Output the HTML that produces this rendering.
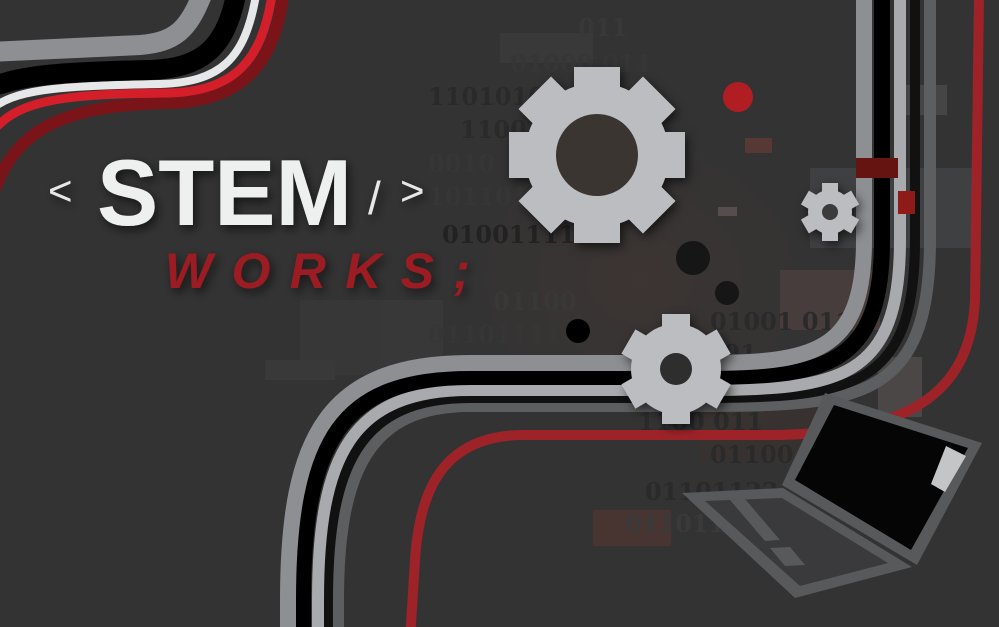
<!DOCTYPE html>
<html><head><meta charset="utf-8"><style>
html,body{margin:0;padding:0;background:#333;}
svg{display:block}
</style></head><body>
<svg width="999" height="627" viewBox="0 0 999 627" xmlns="http://www.w3.org/2000/svg">
<defs>
<radialGradient id="glow" cx="0.5" cy="0.5" r="0.5">
<stop offset="0" stop-color="#3e3533" stop-opacity="0.9"/>
<stop offset="1" stop-color="#333" stop-opacity="0"/>
</radialGradient>
<filter id="sh" x="-20%" y="-20%" width="140%" height="140%"><feDropShadow dx="3" dy="4" stdDeviation="5" flood-color="#000" flood-opacity="0.6"/></filter>
</defs>
<rect width="999" height="627" fill="#333"/>
<ellipse cx="640" cy="280" rx="260" ry="220" fill="url(#glow)"/>

<g opacity="0.9">
<rect x="500" y="33" width="93" height="30" fill="#3b3a3a"/>
<rect x="300" y="300" width="143" height="75" fill="#383838"/>
<rect x="265" y="360" width="70" height="20" fill="#3a3a3a"/>
<rect x="780" y="270" width="100" height="60" fill="#4a3f3d"/>
<rect x="810" y="168" width="163" height="80" fill="#47494b" opacity="0.7"/>
<rect x="895" y="85" width="52" height="30" fill="#555" opacity="0.6"/>
<rect x="878" y="357" width="44" height="60" fill="#5a5251" opacity="0.7"/>
<rect x="700" y="370" width="140" height="90" fill="#3a3230" opacity="0.8"/>
<rect x="593" y="510" width="78" height="36" fill="#4a3532"/>
<rect x="745" y="138" width="27" height="15" fill="#5a3a35"/>
<rect x="718" y="207" width="19" height="9" fill="#5a5050"/>
</g>

<g font-family="'DejaVu Serif','Liberation Serif',serif" font-weight="bold" font-size="24" fill="#2a2a2a">
<text x="578" y="36" fill="#383838">011</text>
<text x="510" y="72" fill="#363636">01000 011</text>
<text x="428" y="105">1101010</text>
<text x="460" y="138">1100 1011</text>
<text x="428" y="172" fill="#363636">0010</text>
<text x="428" y="205" fill="#363636">1011010</text>
<text x="442" y="243" fill="#222">01001111</text>
<text x="493" y="310" fill="#383838">01100</text>
<text x="428" y="343" fill="#363636">01101111</text>
<text x="710" y="330">01001 011</text>
<text x="640" y="362">0110001</text>
<text x="720" y="395">0110</text>
<text x="638" y="430">1100 011</text>
<text x="710" y="463">01100</text>
<text x="645" y="500">01101122</text>
<text x="625" y="532" fill="#3a3a3a">011011</text>
</g>

<g fill="none">
<path d="M-10,205 C10,130 60,105 170,103 C245,101 275,60 283,-5" stroke="#7a1419" stroke-width="12"/>
<path d="M-10,135 C15,100 60,94 170,93 C235,91 262,60 272,-5" stroke="#d41f2b" stroke-width="9"/>
<path d="M-10,110 C15,90 50,86 160,84 C220,82 245,60 256,-5" stroke="#e6e7e8" stroke-width="8"/>
<path d="M-10,88 C20,75 60,72 150,70 C200,68 225,50 236,-5" stroke="#000" stroke-width="20"/>
<path d="M-10,52 L140,45 C175,42 188,30 202,-5" stroke="#8e8f92" stroke-width="20"/>
</g>

<g fill="none">
<path d="M979,-5 L975,300 C970,400 900,432 780,435 L520,435 C450,437 420,480 415,560 L410,640" stroke="#9e2329" stroke-width="10"/>
<path d="M930,-5 L930,240 C930,400 860,406 700,406 L470,406 C370,406 338,470 338,600 L338,640" stroke="#5d5e60" stroke-width="12"/>
<path d="M915,-5 L915,240 C915,390 850,398 700,398 L470,398 C360,398 328,465 328,600 L328,640" stroke="#111" stroke-width="10"/>
<path d="M900,-5 L900,240 C900,380 840,390 700,390 L470,390 C352,390 318,455 318,600 L318,640" stroke="#a9aaad" stroke-width="12"/>
<path d="M882,-5 L882,240 C882,368 825,377 700,377 L470,377 C340,377 303,445 303,600 L303,640" stroke="#000" stroke-width="16"/>
<path d="M864,-5 L864,240 C864,355 812,363 700,363 L470,363 C328,363 288,435 288,600 L288,640" stroke="#8e8f92" stroke-width="16"/>
</g>
<rect x="856" y="158" width="42" height="20" fill="#651412"/>
<rect x="898" y="191" width="17" height="23" fill="#8e1a1a"/>

<circle cx="738" cy="97" r="15" fill="#b01e24"/>
<circle cx="693" cy="258" r="17" fill="#161616"/>
<circle cx="727" cy="293" r="12" fill="#161616"/>
<circle cx="578" cy="331" r="12" fill="#000"/>

<g fill="#bcbdc0" filter="url(#sh)">
<g transform="translate(597,155)">
<circle r="72"/>
<rect x="-23" y="-88" width="46" height="176"/><rect x="-88" y="-23" width="176" height="46"/>
<rect x="-23" y="-88" width="46" height="176" transform="rotate(45)"/><rect x="-23" y="-88" width="46" height="176" transform="rotate(-45)"/>
<circle r="41" fill="#3a3433"/>
</g>
<g transform="translate(676,369)">
<circle r="45"/>
<rect x="-14" y="-55" width="28" height="110"/><rect x="-14" y="-55" width="28" height="110" transform="rotate(60)"/><rect x="-14" y="-55" width="28" height="110" transform="rotate(-60)"/>
<circle r="16" fill="#2e2e2e"/>
</g>
<g transform="translate(830,212)">
<circle r="22"/>
<rect x="-8" y="-29" width="16" height="58"/><rect x="-8" y="-29" width="16" height="58" transform="rotate(60)"/><rect x="-8" y="-29" width="16" height="58" transform="rotate(-60)"/>
<circle r="8" fill="#3a3a3a"/>
</g>
</g>

<g>
<polygon points="825,393 982,443 917,565 782,485" fill="#58595b"/>
<polygon points="834,405 968,448 911,550 795,480" fill="#050505"/>
<polygon points="946,446 966,456 945,492 931,484" fill="#c4c5c7"/>
<polygon points="682,493 783,488 912,567 795,598" fill="#58595b"/>
<polygon points="705,501 782,498 888,563 800,586" fill="#3a3a3c"/>
<polygon points="730,500 745,499 780,540 765,541" fill="#58595b"/>
<polygon points="770,548 790,547 805,565 785,566" fill="#58595b"/>
</g>

<g filter="url(#sh)">
<text x="48" y="205" font-family="'Liberation Sans',sans-serif" font-size="42" fill="#e6e7e8">&lt;</text>
<text x="97" y="225" font-family="'Liberation Sans',sans-serif" font-weight="bold" font-size="94" fill="#eeefef" textLength="255" lengthAdjust="spacingAndGlyphs">STEM</text>
<text x="368" y="214" font-family="'Liberation Sans',sans-serif" font-size="46" fill="#e6e7e8">/</text>
<text x="400" y="205" font-family="'Liberation Sans',sans-serif" font-size="42" fill="#e6e7e8">&gt;</text>
<text x="165" y="288" font-family="'Liberation Sans',sans-serif" font-weight="bold" font-style="italic" font-size="50" fill="#9b1b20" textLength="305" lengthAdjust="spacing">WORKS;</text>
</g>
</svg>
</body></html>
